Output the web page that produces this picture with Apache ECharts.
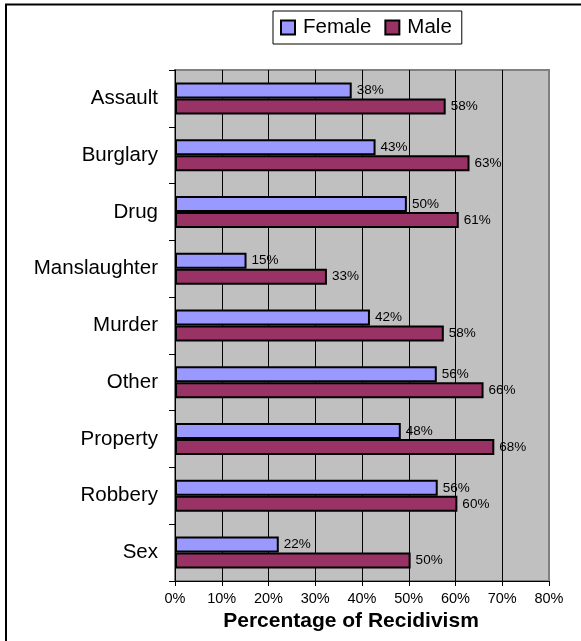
<!DOCTYPE html>
<html>
<head>
<meta charset="utf-8">
<script src="https://cdn.jsdelivr.net/npm/echarts@6/dist/echarts.min.js"></script>
<style>
html,body{margin:0;padding:0;background:#fff;}
#chart{width:581px;height:641px;}
</style>
</head>
<body>
<div id="chart"></div>
<script>
var categories = ['Assault','Burglary','Drug','Manslaughter','Murder','Other','Property','Robbery','Sex'];
var femaleValues = [37.8, 42.9, 49.6, 15.3, 41.7, 56.0, 48.3, 56.2, 22.2];
var maleValues = [57.9, 63.0, 60.7, 32.5, 57.5, 66.0, 68.3, 60.4, 50.4];
var xTicks = {min: 0, max: 80, interval: 10};
var seriesNames = ['Female', 'Male'];
var FONT = "'Liberation Sans', Arial, sans-serif";

var chart = echarts.init(document.getElementById('chart'), null, {renderer: 'canvas'});
var labelCfg = {
  show: true, position: 'right', distance: 5, color: '#000',
  fontFamily: FONT, fontSize: 13.5,
  formatter: function (p) { return Math.round(p.value) + '%'; }
};
chart.setOption({
  animation: false,
  backgroundColor: '#fff',
  graphic: [{
    type: 'rect', shape: {x: 6, y: 4.5, width: 700, height: 700},
    style: {fill: 'none', stroke: '#000', lineWidth: 2}, z: 100
  }],
  legend: {
    data: seriesNames,
    left: 273, top: 11,
    orient: 'horizontal',
    padding: [6, 10, 6, 7],
    itemGap: 13,
    itemWidth: 14, itemHeight: 14,
    borderColor: '#000', borderWidth: 1,
    backgroundColor: '#fff',
    icon: 'rect',
    itemStyle: {borderColor: '#000', borderWidth: 2},
    textStyle: {color: '#000', fontFamily: FONT, fontSize: 20.5, padding: [0, 0, 0, 3]}
  },
  grid: {
    left: 175, right: 32, top: 70, bottom: 60,
    show: true, backgroundColor: '#C0C0C0', borderColor: '#808080', borderWidth: 2
  },
  xAxis: {
    type: 'value', min: xTicks.min, max: xTicks.max, interval: xTicks.interval,
    axisLine: {show: true, lineStyle: {color: '#000', width: 1}},
    axisTick: {show: true, length: 5, lineStyle: {color: '#000'}},
    axisLabel: {color: '#000', fontFamily: FONT, fontSize: 14.5, margin: 10, formatter: '{value}%'},
    splitLine: {show: true, showMinLine: false, showMaxLine: false, lineStyle: {color: '#000', width: 1}},
    name: 'Percentage of Recidivism',
    nameLocation: 'middle', nameGap: 25,
    nameTextStyle: {color: '#000', fontFamily: FONT, fontSize: 21, fontWeight: 'bold', padding: [0, 22, 0, 0]}
  },
  yAxis: {
    type: 'category', data: categories, inverse: true,
    axisLine: {show: true, lineStyle: {color: '#000', width: 1}},
    axisTick: {show: true, length: 6, lineStyle: {color: '#000'}},
    axisLabel: {color: '#000', fontFamily: FONT, fontSize: 20.5, margin: 17},
    splitLine: {show: false}
  },
  series: [{
    name: seriesNames[0], type: 'bar', data: femaleValues,
    barWidth: 16, barGap: '0%',
    itemStyle: {color: '#9999FF', borderColor: '#000', borderWidth: 2},
    label: labelCfg
  }, {
    name: seriesNames[1], type: 'bar', data: maleValues,
    barWidth: 16, barGap: '0%',
    itemStyle: {color: '#993366', borderColor: '#000', borderWidth: 2},
    label: labelCfg
  }]
});
</script>
</body>
</html>
